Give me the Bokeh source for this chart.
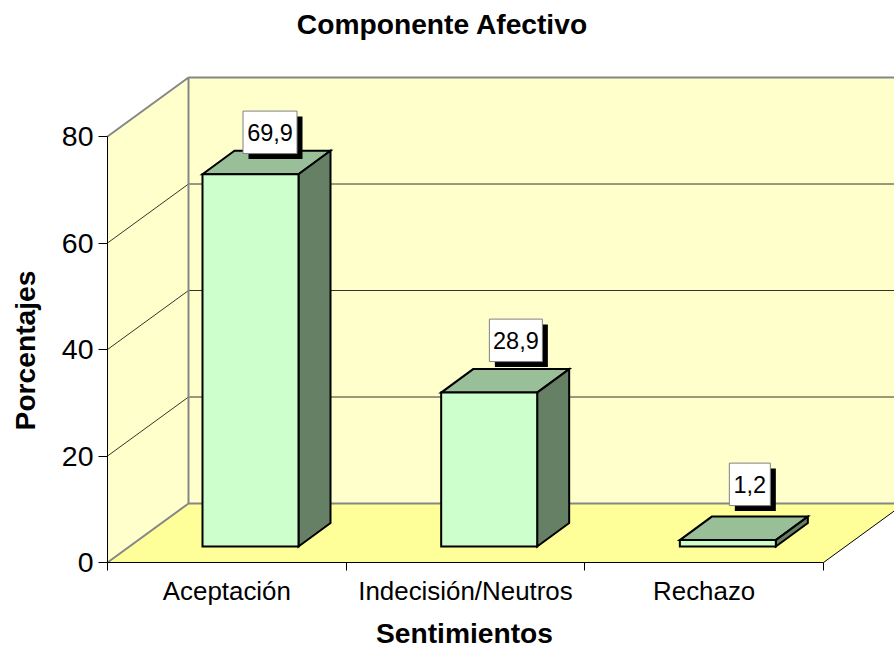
from bokeh.plotting import figure
from bokeh.models import Range1d, FixedTicker
from bokeh.core.properties import value
from bokeh.embed import file_html
from bokeh.resources import INLINE

# ---- data
categories = ["Aceptación", "Indecisión/Neutros", "Rechazo"]
percentages = [69.9, 28.9, 1.2]
value_labels = ["69,9", "28,9", "1,2"]
y_ticks = [0, 20, 40, 60, 80]
chart_title = "Componente Afectivo"
x_title = "Sentimientos"
y_title = "Porcentajes"

# ---- layout (pixels per data unit, depth of the 3D box)
CAT_PX = 238.67
UNIT_PX = 5.325
W, H = 894, 649
ORIGIN_X, ORIGIN_Y = 107, 562   # where (0, 0) of the chart falls on the canvas
FONT = value("Liberation Sans")
def dx(px): return px / CAT_PX
def dy(px): return px / UNIT_PX
def sx(px): return dx(px - ORIGIN_X)
def sy(px): return dy(ORIGIN_Y - px)

WALL_DX, WALL_DY = dx(81), dy(59)
BAR_LEFT, BAR_W = dx(95), dx(96)
BAR_BASE = dy(16)
BAR_DX, BAR_DY = dx(32), dy(23.5)
YMAX = 80
NCAT = len(categories)

p = figure(width=W, height=H, output_backend="svg", toolbar_location=None,
           x_range=Range1d(sx(0), sx(W)), y_range=Range1d(sy(H), sy(0)),
           min_border=0, outline_line_color=None, background_fill_color="white")
p.grid.visible = False

# side wall, back wall, floor
WALL = "#FFFFCC"
GRAY = "#868686"
xe = NCAT + WALL_DX
p.patch([0, WALL_DX, WALL_DX, 0], [0, WALL_DY, YMAX + WALL_DY, YMAX], fill_color=WALL, line_color=None)
p.patch([WALL_DX, xe, xe, WALL_DX], [WALL_DY, WALL_DY, YMAX + WALL_DY, YMAX + WALL_DY], fill_color=WALL, line_color=None)
p.patch([0, NCAT, xe, WALL_DX], [0, 0, WALL_DY, WALL_DY], fill_color="#FFFF99", line_color=None)

# gridlines
grid = [t for t in y_ticks[1:-1]]
p.multi_line([[0, WALL_DX, xe] for _ in grid],
             [[t, t + WALL_DY, t + WALL_DY] for t in grid], line_color="black", line_width=0.8)
# wall edges
p.line([0, WALL_DX, WALL_DX, 0], [YMAX, YMAX + WALL_DY, WALL_DY, 0], line_color=GRAY, line_width=2)
p.line([WALL_DX, xe], [YMAX + WALL_DY] * 2, line_color=GRAY, line_width=2)
p.line([WALL_DX, xe], [WALL_DY] * 2, line_color=GRAY, line_width=2)
p.line([NCAT, xe], [0, WALL_DY], line_color="black", line_width=1)

# bars
LBL_DX = [3.5, 10.7, 6]
LBL_BOTTOM = [20.7, 31, 34.5]
LBL_W = [54, 53, 41]
LBL_H = 42.5
for i, v in enumerate(percentages):
    x0 = i + BAR_LEFT
    x1 = x0 + BAR_W
    b = BAR_BASE
    t = BAR_BASE + v
    p.patch([x0 + BAR_DX, x1 + BAR_DX, x1, x0], [t + BAR_DY, t + BAR_DY, t, t],
            fill_color="#99BF99", line_color="black", line_width=2, line_join="miter")
    p.patch([x1, x1 + BAR_DX, x1 + BAR_DX, x1], [b, b + BAR_DY, t + BAR_DY, t],
            fill_color="#668066", line_color="black", line_width=2, line_join="miter")
    p.patch([x0, x1, x1, x0], [b, b, t, t],
            fill_color="#CCFFCC", line_color="black", line_width=2, line_join="miter")
    xc = (x0 + x1 + BAR_DX) / 2 + dx(LBL_DX[i])
    yb = t + dy(LBL_BOTTOM[i])
    yc = yb + dy(LBL_H / 2)
    p.rect([xc + dx(5.5)], [yc - dy(5.5)], width=LBL_W[i], height=LBL_H,
           width_units="screen", height_units="screen", fill_color="black", line_color=None)
    p.rect([xc], [yc], width=LBL_W[i], height=LBL_H, width_units="screen", height_units="screen",
           fill_color="white", line_color="#808080", line_width=1)
    p.text([xc], [yc], text=[value_labels[i]], text_font=FONT, text_font_size="23.5px",
           text_align="center", text_baseline="middle", text_color="black")

# axes, held at the chart's origin inside the canvas
xa, ya = p.xaxis[0], p.yaxis[0]
xa.fixed_location = 0
ya.fixed_location = 0
xa.ticker = FixedTicker(ticks=[i + 0.5 for i in range(NCAT)], minor_ticks=list(range(NCAT + 1)))
xa.major_label_overrides = {i + 0.5: c for i, c in enumerate(categories)}
xa.bounds = (0, NCAT)
xa.axis_line_color = "black"
xa.minor_tick_line_color = "black"
xa.major_tick_in = 0
xa.major_tick_out = 0
xa.minor_tick_in = 0
xa.minor_tick_out = 8
xa.major_label_standoff = 6
xa.major_label_text_color = "black"
xa.major_label_text_font = "Liberation Sans"
xa.major_label_text_font_size = "25.9px"

ya.ticker = FixedTicker(ticks=y_ticks)
ya.bounds = (0, YMAX)
ya.axis_line_color = "black"
ya.major_tick_line_color = "black"
ya.major_tick_in = 0
ya.major_tick_out = 9
ya.minor_tick_in = 0
ya.minor_tick_out = 0
ya.major_label_standoff = 5
ya.major_label_text_color = "black"
ya.major_label_text_font = "Liberation Sans"
ya.major_label_text_font_size = "28.5px"

# titles
def bold(x, y, text, angle=0):
    p.text([x], [y], text=[text], angle=angle, angle_units="deg", text_font=FONT,
           text_font_size="28.2px", text_font_style="bold", text_color="black",
           text_align="center", text_baseline="middle")

bold(sx(442), sy(23), chart_title)
bold(sx(464), sy(632), x_title)
bold(sx(24), sy(350), y_title, angle=90)

open("out.html", "w").write(file_html(p, INLINE))
